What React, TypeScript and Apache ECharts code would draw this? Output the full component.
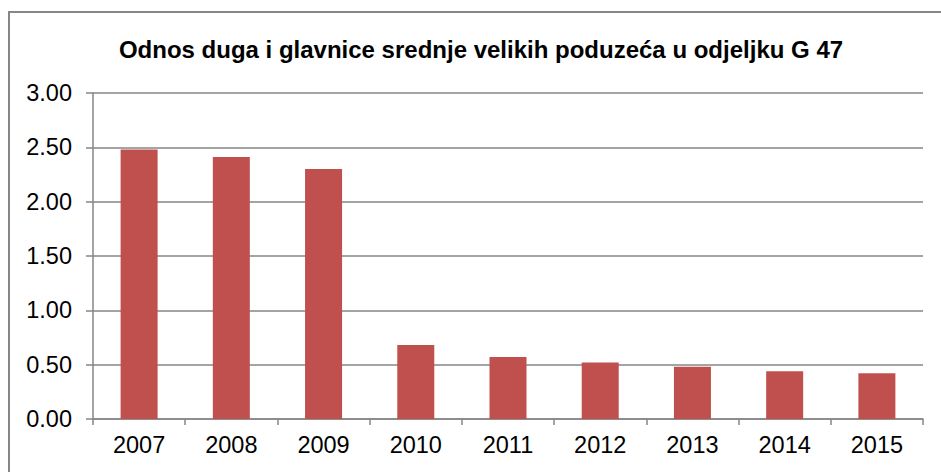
import React, { useEffect, useRef } from "react";
import * as echarts from "echarts";

const titleText = "Odnos duga i glavnice srednje velikih poduzeća u odjeljku G 47";
const categories = ["2007", "2008", "2009", "2010", "2011", "2012", "2013", "2014", "2015"];
const ratioValues = [2.48, 2.41, 2.3, 0.68, 0.57, 0.52, 0.48, 0.44, 0.42];
const yMin = 0;
const yMax = 3;
const yInterval = 0.5;

const FONT = "Arial, 'Liberation Sans', sans-serif";
const GRAY = "#868686";

export default function App() {
  const ref = useRef<HTMLDivElement>(null);
  useEffect(() => {
    if (!ref.current) return;
    const chart = echarts.init(ref.current, undefined, { renderer: "svg" });
    chart.setOption({
      animation: false,
      backgroundColor: "#ffffff",
      title: {
        text: titleText,
        left: 476,
        textAlign: "center",
        top: 32,
        textStyle: { fontFamily: FONT, fontSize: 24, fontWeight: "bold", color: "#000" },
      },
      graphic: [
        {
          type: "rect",
          shape: { x: 9, y: 12, width: 1000, height: 1000 },
          style: { fill: "none", stroke: GRAY, lineWidth: 2 },
          silent: true,
        },
      ],
      grid: { left: 93, right: 18, top: 93, bottom: 53, containLabel: false },
      xAxis: {
        type: "category",
        data: categories,
        axisLine: { show: true, lineStyle: { color: GRAY, width: 1.5 } },
        axisTick: { show: true, length: 6, alignWithLabel: false, lineStyle: { color: GRAY, width: 1.5 } },
        axisLabel: { color: "#000", fontFamily: FONT, fontSize: 23.5, margin: 14 },
        splitLine: { show: false },
      },
      yAxis: {
        type: "value",
        min: yMin,
        max: yMax,
        interval: yInterval,
        axisLine: { show: true, lineStyle: { color: GRAY, width: 1.5 } },
        axisTick: { show: true, length: 7, lineStyle: { color: GRAY, width: 1.5 } },
        axisLabel: {
          color: "#000",
          fontFamily: FONT,
          fontSize: 23.5,
          margin: 21,
          formatter: (v: number) => v.toFixed(2),
        },
        splitLine: { show: true, lineStyle: { color: GRAY, width: 1.5 } },
      },
      series: [
        {
          type: "bar",
          data: ratioValues,
          barWidth: 37,
          itemStyle: { color: "#C0504D" },
        },
      ],
    });
    return () => chart.dispose();
  }, []);
  return (
    <div
      ref={ref}
      style={{ position: "absolute", left: 0, top: 0, width: 941, height: 472 }}
    />
  );
}
